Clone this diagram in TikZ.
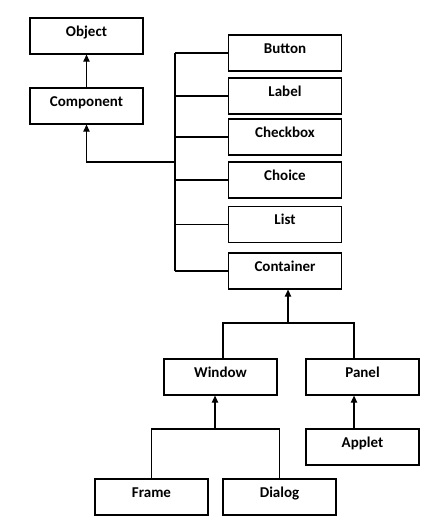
\documentclass[tikz,border=0pt]{standalone}
\usepackage{fontspec}
\setmainfont{Carlito}
\usetikzlibrary{arrows.meta}

\tikzset{
    cls/.style={draw, line width=1.3pt, minimum width=113pt, minimum height=36pt,
        inner sep=0pt, text height=8pt, text depth=8pt,
        font=\bfseries\fontsize{15}{18}\selectfont},
    link/.style={line width=1.3pt},
    arr/.style={line width=1.3pt, -{Triangle[width=6.5pt,length=7pt]}}
}

\begin{document}
\begin{tikzpicture}[x=1pt, y=-1pt]
\useasboundingbox (0,0) rectangle (441,528);

% Object and Component
\node[cls] (Object) at (86.5,36) {Object};
\node[cls] (Component) at (86.5,106) {Component};
\draw[arr] (Component.north) -- (Object.south);

% Subclasses of Component
\foreach \name/\y in {Button/53, Label/96, Checkbox/137, Choice/180, List/224.5, Container/271} {
    \node[cls] (\name) at (285,\y) {\name};
}

% Trunk from the subclasses back to Component
\coordinate (trunk) at (175,162);
\draw[link] (trunk |- Button.west) -- (trunk |- Container.west);
\foreach \name in {Button,Label,Checkbox,Choice,List,Container} {
    \draw[link] (trunk |- \name.west) -- (\name.west);
}
\draw[arr] (trunk) -| (Component.south);

% Window and Panel
\node[cls] (Window) at (220.5,377) {Window};
\node[cls] (Panel) at (362.5,377) {Panel};
\coordinate (cbar) at (288,323);
\draw[arr] (cbar) -- (cbar |- Container.south);
\draw[link] ([xshift=2.5pt]Window.north) |- (cbar) -| ([xshift=-8.5pt]Panel.north);

% Applet
\node[cls] (Applet) at (362.5,447) {Applet};
\draw[arr] ([xshift=-8.5pt]Applet.north) -- ([xshift=-8.5pt]Panel.south);

% Frame and Dialog
\node[cls] (Frame) at (151.5,497) {Frame};
\node[cls] (Dialog) at (279.5,497) {Dialog};
\coordinate (wbar) at (215,429);
\draw[arr] (wbar) -- (wbar |- Window.south);
\draw[link] (Frame.north) |- (wbar) -| (Dialog.north);
\end{tikzpicture}
\end{document}
